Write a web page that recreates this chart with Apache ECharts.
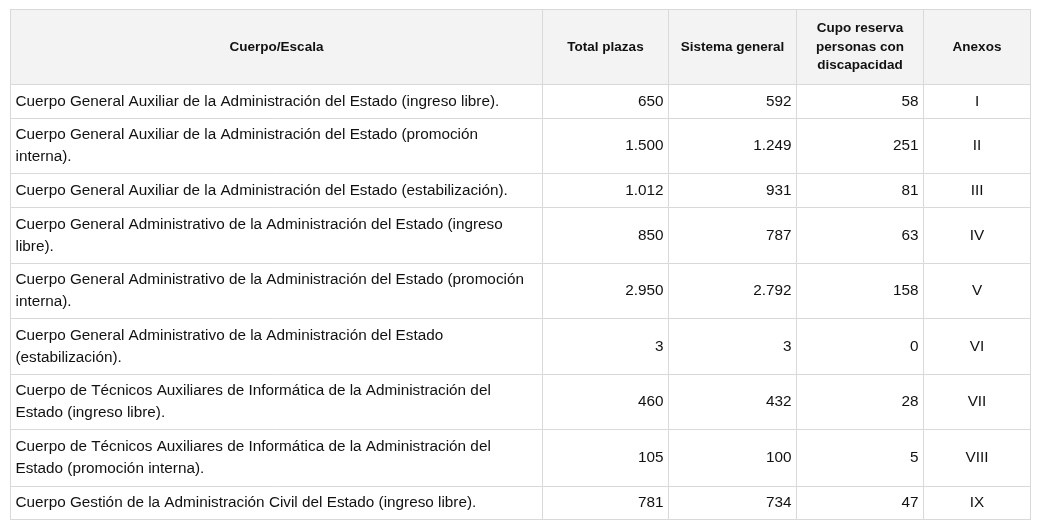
<!DOCTYPE html>
<html>
<head>
<meta charset="utf-8">
<script src="https://cdn.jsdelivr.net/npm/echarts@6.0.0/dist/echarts.min.js"></script>
<style>
  html, body { margin: 0; padding: 0; background: #fff; }
  #main { width: 1040px; height: 530px; }
</style>
</head>
<body>
<div id="main"></div>
<script>
// cabeceras de columna
var columns = [
  "Cuerpo/Escala",
  "Total plazas",
  "Sistema general",
  "Cupo reserva\npersonas con\ndiscapacidad",
  "Anexos"
];

// cuerpos / escalas (saltos de línea como en la tabla)
var cuerpos = [
  "Cuerpo General Auxiliar de la Administración del Estado (ingreso libre).",
  "Cuerpo General Auxiliar de la Administración del Estado (promoción\ninterna).",
  "Cuerpo General Auxiliar de la Administración del Estado (estabilización).",
  "Cuerpo General Administrativo de la Administración del Estado (ingreso\nlibre).",
  "Cuerpo General Administrativo de la Administración del Estado (promoción\ninterna).",
  "Cuerpo General Administrativo de la Administración del Estado\n(estabilización).",
  "Cuerpo de Técnicos Auxiliares de Informática de la Administración del\nEstado (ingreso libre).",
  "Cuerpo de Técnicos Auxiliares de Informática de la Administración del\nEstado (promoción interna).",
  "Cuerpo Gestión de la Administración Civil del Estado (ingreso libre)."
];

var totalPlazas = [650, 1500, 1012, 850, 2950, 3, 460, 105, 781];
var sistemaGeneral = [592, 1249, 931, 787, 2792, 3, 432, 100, 734];
var cupoDiscapacidad = [58, 251, 81, 63, 158, 0, 28, 5, 47];
var anexos = ["I", "II", "III", "IV", "V", "VI", "VII", "VIII", "IX"];

// anchos de columna y altos de fila (px)
var colWidths = [532, 126, 128, 127, 107];
var rowHeights = [34, 55, 34, 56, 55, 56, 55, 57, 33];
var headerHeight = 75;

var lineColor = "#d9d9d9";
var textColor = "#111";
var fontFamily = "'Liberation Sans', Arial, sans-serif";

// formato español: 1.500
function fmt(n) {
  return String(n).replace(/\B(?=(\d{3})+(?!\d))/g, ".");
}

var bodyData = [];
for (var i = 0; i < cuerpos.length; i++) {
  bodyData.push({
    coord: [0, i],
    value: cuerpos[i],
    label: { position: "insideLeft", distance: 2, align: "left", overflow: "none", width: null }
  });
  [totalPlazas, sistemaGeneral, cupoDiscapacidad].forEach(function (arr, k) {
    bodyData.push({
      coord: [k + 1, i],
      value: fmt(arr[i]),
      label: { position: "insideRight", distance: 2, align: "right", overflow: "none" }
    });
  });
  bodyData.push({
    coord: [4, i],
    value: anexos[i],
    label: { position: "inside", align: "center", overflow: "none" }
  });
}

var chart = echarts.init(document.getElementById("main"));
chart.setOption({
  animation: false,
  matrix: {
    left: 10,
    top: 9,
    width: 1020,
    height: 510,
    backgroundStyle: { color: "#fff", borderColor: lineColor, borderWidth: 1 },
    x: {
      show: true,
      levelSize: headerHeight,
      data: columns.map(function (c, i) {
        return { value: c, size: colWidths[i] };
      }),
      itemStyle: { color: "#f3f3f3", borderColor: lineColor, borderWidth: 1 },
      label: {
        color: textColor,
        fontFamily: fontFamily,
        fontWeight: "bold",
        fontSize: 13.5,
        lineHeight: 18.5
      },
      dividerLineStyle: { color: lineColor, width: 1 }
    },
    y: {
      show: false,
      data: rowHeights.map(function (h, i) {
        return { value: String(i), size: h };
      })
    },
    body: {
      data: bodyData,
      itemStyle: { color: "#fff", borderColor: lineColor, borderWidth: 1 },
      label: {
        color: textColor,
        fontFamily: fontFamily,
        fontSize: 15.3,
        lineHeight: 22,
        overflow: "none"
      }
    }
  }
});
</script>
</body>
</html>
